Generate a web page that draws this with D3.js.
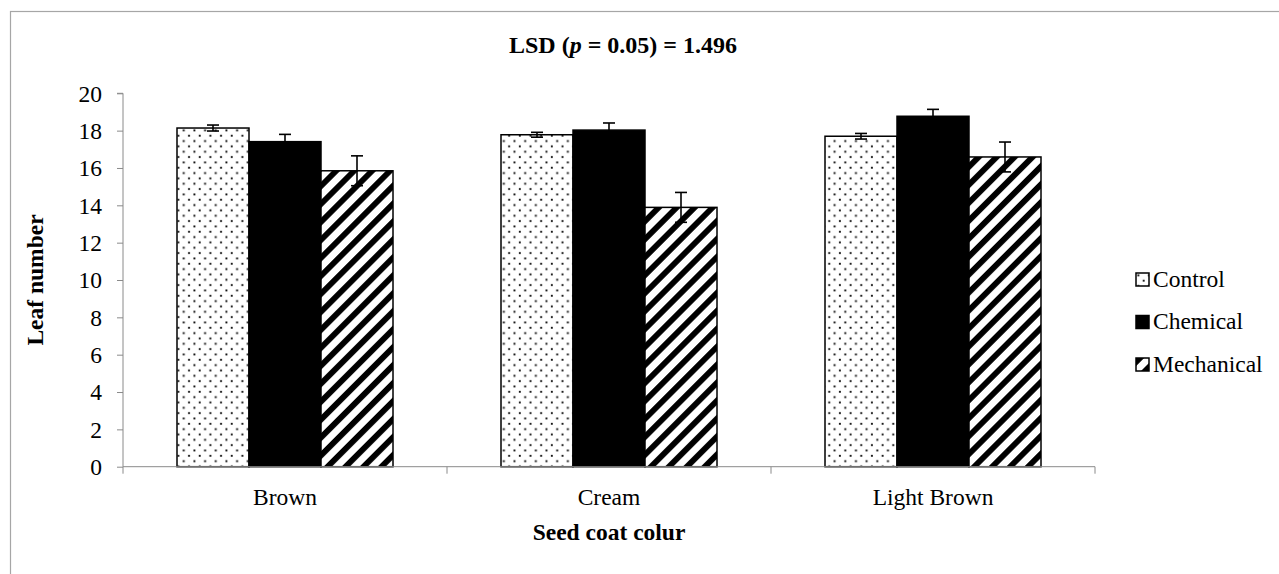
<!DOCTYPE html>
<html>
<head>
<meta charset="utf-8">
<script src="https://cdn.jsdelivr.net/npm/d3@7"></script>
<style>
html,body{margin:0;padding:0;background:#fff;overflow:hidden;}
svg{display:block;}
svg text{font-family:"Liberation Serif","Times New Roman","DejaVu Serif",serif !important;fill:#000;}
</style>
</head>
<body>
<svg id="chart" width="1279" height="574"></svg>
<script>
const categories = ["Brown", "Cream", "Light Brown"];
const seriesNames = ["Control", "Chemical", "Mechanical"];
const controlValues = [18.14, 17.78, 17.70];
const chemicalValues = [17.41, 18.03, 18.77];
const mechanicalValues = [15.85, 13.89, 16.59];
const controlErrors = [0.16, 0.13, 0.15];
const chemicalErrors = [0.39, 0.38, 0.37];
const mechanicalErrors = [0.80, 0.80, 0.80];
const yTicks = [0, 2, 4, 6, 8, 10, 12, 14, 16, 18, 20];
const titleParts = ["LSD (", "p", " = 0.05) = 1.496"];
const xTitle = "Seed coat colur";
const yTitle = "Leaf number";

const series = [
  {name: seriesNames[0], values: controlValues, errors: controlErrors, fill: "url(#dots)"},
  {name: seriesNames[1], values: chemicalValues, errors: chemicalErrors, fill: "#000"},
  {name: seriesNames[2], values: mechanicalValues, errors: mechanicalErrors, fill: "url(#stripes)"}
];

const svg = d3.select("#chart");
const FS = 23.5;
const axisColor = "#8a8a8a";

// patterns
const defs = svg.append("defs");
const dots = defs.append("pattern").attr("id", "dots")
  .attr("patternUnits", "userSpaceOnUse").attr("width", 10.67).attr("height", 10.67);
dots.append("rect").attr("width", 10.67).attr("height", 10.67).attr("fill", "#fff");
dots.append("rect").attr("x", 1.4).attr("y", 1.4).attr("width", 1.9).attr("height", 1.9).attr("fill", "#111");
dots.append("rect").attr("x", 6.7).attr("y", 6.7).attr("width", 1.9).attr("height", 1.9).attr("fill", "#111");

const stripes = defs.append("pattern").attr("id", "stripes")
  .attr("patternUnits", "userSpaceOnUse").attr("width", 12.7).attr("height", 12.7)
  .attr("patternTransform", "rotate(45)");
stripes.append("rect").attr("width", 12.7).attr("height", 12.7).attr("fill", "#fff");
stripes.append("rect").attr("x", 0).attr("width", 5.8).attr("height", 12.7).attr("fill", "#000");

// chart frame
svg.append("rect").attr("x", 10.5).attr("y", 11.5).attr("width", 1400).attr("height", 700)
  .attr("fill", "none").attr("stroke", "#a6a6a6").attr("stroke-width", 1.2);

// scales
const x = d3.scaleBand().domain(categories).range([123, 1095]).paddingInner(0).paddingOuter(0);
const xs = d3.scaleBand().domain(seriesNames).range([0, x.bandwidth()]).paddingInner(0).paddingOuter(0.75);
const y = d3.scaleLinear().domain([0, 20]).range([466.7, 93.3]);

// y axis
const yAxis = svg.append("g").attr("transform", "translate(123,0)")
  .call(d3.axisLeft(y).tickValues(yTicks).tickSize(6).tickPadding(15).tickFormat(d3.format("d")));
yAxis.attr("font-family", null).attr("font-size", null);
yAxis.select(".domain").attr("stroke", axisColor).attr("d", `M-6,${y(20)}H0V${y(0)}`);
yAxis.selectAll(".tick line").attr("stroke", axisColor);
yAxis.selectAll(".tick text").attr("font-size", FS).attr("fill", "#000").attr("dy", "0.33em");

// bars
const groups = svg.append("g").selectAll("g").data(series).join("g");
groups.selectAll("rect").data(s => s.values.map((v, i) => ({s, v, i, c: categories[i]})))
  .join("rect")
  .attr("x", d => x(d.c) + xs(d.s.name))
  .attr("y", d => y(d.v))
  .attr("width", xs.bandwidth())
  .attr("height", d => y(0) - y(d.v))
  .attr("fill", d => d.s.fill)
  .attr("stroke", "#000").attr("stroke-width", 1.5);

// x axis
const xAxis = svg.append("g").attr("transform", `translate(0,${y(0)})`)
  .call(d3.axisBottom(x).tickSize(0).tickPadding(22));
xAxis.attr("font-family", null).attr("font-size", null);
xAxis.select(".domain").attr("stroke", axisColor).attr("d", `M123,0H1095`);
xAxis.selectAll(".tick text").attr("font-size", FS).attr("fill", "#000");
const sep = [x(categories[0])].concat(categories.map(c => x(c) + x.bandwidth()));
svg.append("g").selectAll("line").data(sep).join("line")
  .attr("x1", d => d).attr("x2", d => d).attr("y1", y(0)).attr("y2", y(0) + 7)
  .attr("stroke", axisColor).attr("stroke-width", 1);

// error bars
const errG = svg.append("g").attr("stroke", "#000").attr("stroke-width", 1.6).attr("fill", "none");
series.forEach(s => {
  s.values.forEach((v, i) => {
    const cx = x(categories[i]) + xs(s.name) + xs.bandwidth() / 2;
    const y1 = y(v + s.errors[i]), y2 = y(v - s.errors[i]);
    errG.append("line").attr("x1", cx).attr("x2", cx).attr("y1", y1).attr("y2", y2);
    errG.append("line").attr("x1", cx - 6).attr("x2", cx + 6).attr("y1", y1).attr("y2", y1);
    errG.append("line").attr("x1", cx - 6).attr("x2", cx + 6).attr("y1", y2).attr("y2", y2);
  });
});

// title
const t = svg.append("text").attr("x", 623).attr("y", 53).attr("text-anchor", "middle")
  .attr("font-size", 24).attr("font-weight", "bold");
t.append("tspan").text(titleParts[0]);
t.append("tspan").attr("font-style", "italic").text(titleParts[1]);
t.append("tspan").text(titleParts[2]);

// axis titles
svg.append("text").attr("x", 609).attr("y", 540).attr("text-anchor", "middle")
  .attr("font-size", FS).attr("font-weight", "bold").text(xTitle);
svg.append("text").attr("transform", "translate(43,280) rotate(-90)").attr("text-anchor", "middle")
  .attr("font-size", FS).attr("font-weight", "bold").text(yTitle);

// legend
const lg = svg.append("g").selectAll("g").data(series).join("g")
  .attr("transform", (d, i) => `translate(1136,${273 + i * 42.5})`);
lg.append("rect").attr("width", 13).attr("height", 13).attr("fill", d => d.fill)
  .attr("stroke", "#000").attr("stroke-width", 1.5);
lg.append("text").attr("x", 17).attr("y", 13.5).attr("font-size", FS).text(d => d.name);
</script>
</body>
</html>
